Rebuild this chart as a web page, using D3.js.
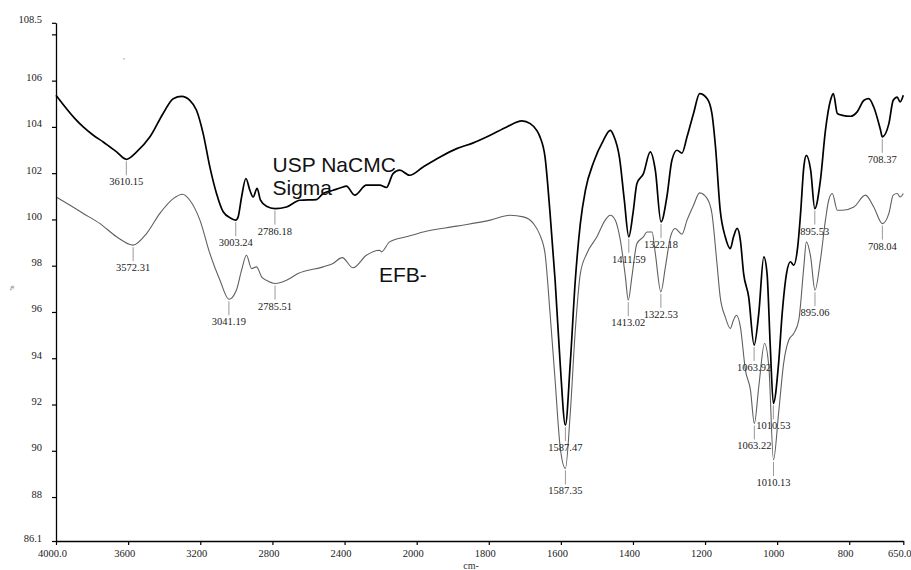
<!DOCTYPE html>
<html>
<head>
<meta charset="utf-8">
<script src="https://cdn.jsdelivr.net/npm/d3@7"></script>
<style>
  body { margin: 0; background: #fff; }
  svg { display: block; }
</style>
</head>
<body>
<svg id="chart" width="911" height="570"></svg>
<script>
// FTIR transmittance spectra: [wavenumber (cm-1), %T]
const sigmaSpectrum = [
  [4000,105.37],[3895,104.36],[3849,104.0],[3793,103.64],[3738,103.35],[3664,102.92],[3610.15,102.6],
  [3553,102.92],[3479,103.57],[3406,104.58],[3350,105.22],[3304,105.32],[3258,105.15],[3221,104.72],
  [3184,103.71],[3147,102.27],[3110,101.12],[3073,100.33],[3030,100.05],[3003.24,99.97],[2990,100.11],
  [2971,100.97],[2947,101.77],[2925,101.26],[2907,100.97],[2885,101.34],[2866,100.83],[2833,100.57],
  [2786.18,100.47],[2722,100.54],[2648,100.83],[2556,100.86],[2519,101.12],[2464,101.26],[2417,101.38],
  [2390,101.44],[2344,101.05],[2279,101.48],[2205,101.48],[2168,101.38],[2131,101.98],[2094,102.13],
  [2039,101.91],[1982,102.27],[1935,102.7],[1889,103.06],[1843,103.31],[1796,103.64],[1750,104.0],
  [1708,104.26],[1685,104.14],[1667,103.85],[1658,103.57],[1644,102.7],[1630,100.26],[1616,97.37],
  [1602,93.78],[1587.47,91.11],[1574,93.78],[1560,97.37],[1546,99.82],[1532,101.26],[1509,102.48],
  [1482,103.42],[1463,103.85],[1454,103.64],[1437,102.63],[1424,100.83],[1411.59,99.25],[1400,100.26],
  [1389,101.55],[1371,101.98],[1352,102.92],[1338,102.13],[1322.18,99.89],[1306,100.97],[1292,102.56],
  [1278,102.99],[1264,102.87],[1250,103.57],[1232,104.58],[1215,105.44],[1194,105.22],[1181,104.58],
  [1171,103.13],[1158,100.4],[1144,99.25],[1130,98.74],[1121,99.25],[1111,99.61],[1102,99.1],
  [1093,97.66],[1079,96.65],[1063.92,94.57],[1051,95.94],[1037,98.38],[1028,97.66],[1019,94.49],
  [1010.53,92.05],[996,93.78],[986,95.94],[974,97.66],[963,98.17],[954,98.02],[943,98.81],[935,100.26],
  [926,102.27],[919,102.77],[907,102.13],[895.53,100.47],[880,101.69],[866,103.85],[852,105.15],
  [844,105.44],[833,104.58],[819,104.5],[796,104.46],[778,104.65],[759,105.15],[746,105.22],
  [732,104.86],[713,103.85],[708.37,103.57],[690,104.14],[678,105.15],[667,105.29],[659,105.08],
  [650,105.37]
];

const efbSpectrum = [
  [4000,100.97],[3922,100.61],[3849,100.26],[3756,99.82],[3664,99.25],[3572.31,98.89],[3498,99.39],
  [3424,100.26],[3350,100.9],[3298,101.09],[3258,100.83],[3202,99.97],[3147,98.53],[3091,97.37],
  [3041.19,96.55],[3000,96.94],[2971,97.81],[2944,98.45],[2916,97.88],[2888,97.95],[2860,97.52],
  [2833,97.37],[2785.51,97.23],[2722,97.37],[2658,97.66],[2519,97.95],[2464,98.1],[2413,98.35],
  [2353,97.91],[2279,98.45],[2205,98.67],[2196,98.6],[2150,99.03],[2057,99.25],[1982,99.46],
  [1889,99.71],[1796,99.97],[1741,100.18],[1704,100.11],[1676,99.82],[1658,99.32],[1644,98.53],
  [1630,95.94],[1616,93.05],[1602,90.17],[1587.35,89.24],[1574,91.62],[1560,95.21],[1546,97.66],
  [1528,98.53],[1500,99.25],[1477,99.97],[1463,100.18],[1449,99.97],[1435,99.1],[1421,97.52],
  [1413.02,96.51],[1403,97.52],[1389,98.96],[1371,99.25],[1361,99.46],[1347,99.46],[1338,98.53],
  [1322.53,96.87],[1310,97.95],[1296,99.25],[1283,99.61],[1264,99.36],[1250,99.97],[1232,100.61],
  [1215,101.15],[1194,100.9],[1181,100.26],[1167,98.1],[1158,96.65],[1144,95.79],[1130,95.29],
  [1121,95.65],[1113,95.86],[1102,95.36],[1088,93.49],[1074,92.62],[1063.22,91.18],[1051,92.77],
  [1035,94.64],[1023,93.63],[1010.13,89.6],[996,91.62],[982,93.78],[968,94.78],[954,95.07],
  [940,95.65],[926,97.95],[919,99.03],[907,98.38],[895.06,96.94],[880,98.24],[866,99.97],
  [857,100.83],[847,101.12],[833,100.4],[819,100.4],[787,100.54],[755,101.05],[732,100.54],
  [708.04,99.82],[690,100.26],[678,101.05],[667,101.12],[659,100.97],[650,101.12]
];

// labelled absorption bands (wavenumbers) for each spectrum
const sigmaPeaks = [3610.15, 3003.24, 2786.18, 1587.47, 1411.59, 1322.18, 1063.92, 1010.53, 895.53, 708.37];
const efbPeaks   = [3572.31, 3041.19, 2785.51, 1587.35, 1413.02, 1322.53, 1063.22, 1010.13, 895.06, 708.04];

const xTicks = [4000, 3600, 3200, 2800, 2400, 2000, 1800, 1600, 1400, 1200, 1000, 800, 650];
const xTickLabels = ["4000.0", "3600", "3200", "2800", "2400", "2000", "1800", "1600", "1400", "1200", "1000", "800", "650.0"];
const yTicks = [86.1, 88, 90, 92, 94, 96, 98, 100, 102, 104, 106, 108, 108.5];
const yTickLabels = ["86.1", "88", "90", "92", "94", "96", "98", "100", "102", "104", "106", "", "108.5"];

const sigmaName = ["USP NaCMC", "Sigma"];
const efbName = ["EFB-"];

const svg = d3.select("#chart");

// wavenumber axis has a scale change at 2000 cm-1 (expanded fingerprint region)
const x = d3.scaleLinear().domain([4000, 2000, 650]).range([56, 416.7, 903.3]);
const y = d3.scaleLinear().domain([86.1, 108.5]).range([541, 22.8]);

const line = d3.line().curve(d3.curveMonotoneX).x(d => x(d[0])).y(d => y(d[1]));

// spectra
svg.append("path").datum(efbSpectrum)
  .attr("d", line).attr("fill", "none")
  .attr("stroke", "#606060").attr("stroke-width", 1.1).attr("stroke-linejoin", "round");
svg.append("path").datum(sigmaSpectrum)
  .attr("d", line).attr("fill", "none")
  .attr("stroke", "#000").attr("stroke-width", 1.7).attr("stroke-linejoin", "round");

const serif = "'Liberation Serif', 'DejaVu Serif', serif";

// peak markers: short drop line under each band and its wavenumber
function drawPeaks(peaks, spectrum) {
  const g = svg.append("g");
  peaks.forEach(wn => {
    const pt = spectrum.find(d => d[0] === wn);
    const px = x(wn), py = y(pt[1]);
    g.append("line")
      .attr("x1", px).attr("x2", px).attr("y1", py + 2).attr("y2", py + 16)
      .attr("stroke", "#999").attr("stroke-width", 1);
    g.append("text")
      .attr("x", px).attr("y", py + 26)
      .attr("text-anchor", "middle")
      .attr("font-family", serif)
      .attr("font-size", 10.5).attr("fill", "#222")
      .text(wn.toFixed(2));
  });
}
drawPeaks(sigmaPeaks, sigmaSpectrum);
drawPeaks(efbPeaks, efbSpectrum);

// axes
const yAxis = svg.append("g").attr("transform", "translate(56,0)")
  .call(d3.axisLeft(y).tickValues(yTicks).tickFormat((d, i) => yTickLabels[i]).tickSize(4).tickSizeOuter(0).tickPadding(10));
const xAxis = svg.append("g").attr("transform", "translate(0,541)")
  .call(d3.axisBottom(x).tickValues(xTicks).tickFormat((d, i) => xTickLabels[i]).tickSize(4).tickSizeOuter(0).tickPadding(5));

[yAxis, xAxis].forEach(a => {
  a.select(".domain").attr("stroke", "#000").attr("stroke-width", 1.3);
  a.selectAll(".tick line").attr("stroke", "#000").attr("stroke-width", 1.2);
  a.selectAll(".tick text").attr("font-family", serif).attr("font-size", 10.5).attr("fill", "#222");
});
yAxis.selectAll(".tick text").attr("dy", "0em");
xAxis.selectAll(".tick text").attr("dx", -4);

// axis titles
svg.append("text").attr("x", 471).attr("y", 569).attr("text-anchor", "middle")
  .attr("font-family", serif).attr("font-size", 10).attr("fill", "#333").text("cm-");
svg.append("text").attr("transform", "translate(14,288) rotate(-90)").attr("text-anchor", "middle")
  .attr("font-family", serif).attr("font-size", 6).attr("fill", "#333").text("%");
svg.append("text").attr("x", 124).attr("y", 64).attr("text-anchor", "middle")
  .attr("font-family", serif).attr("font-size", 8).attr("fill", "#666").text("'");

// sample names
const sans = "'Liberation Sans', Arial, sans-serif";
sigmaName.forEach((t, i) => {
  svg.append("text").attr("x", 272.5).attr("y", 171.7 + i * 23.5)
    .attr("font-family", sans).attr("font-size", 21).attr("fill", "#111").text(t);
});
efbName.forEach(t => {
  svg.append("text").attr("x", 379).attr("y", 281.7)
    .attr("font-family", sans).attr("font-size", 21).attr("fill", "#111").text(t);
});
</script>
</body>
</html>
